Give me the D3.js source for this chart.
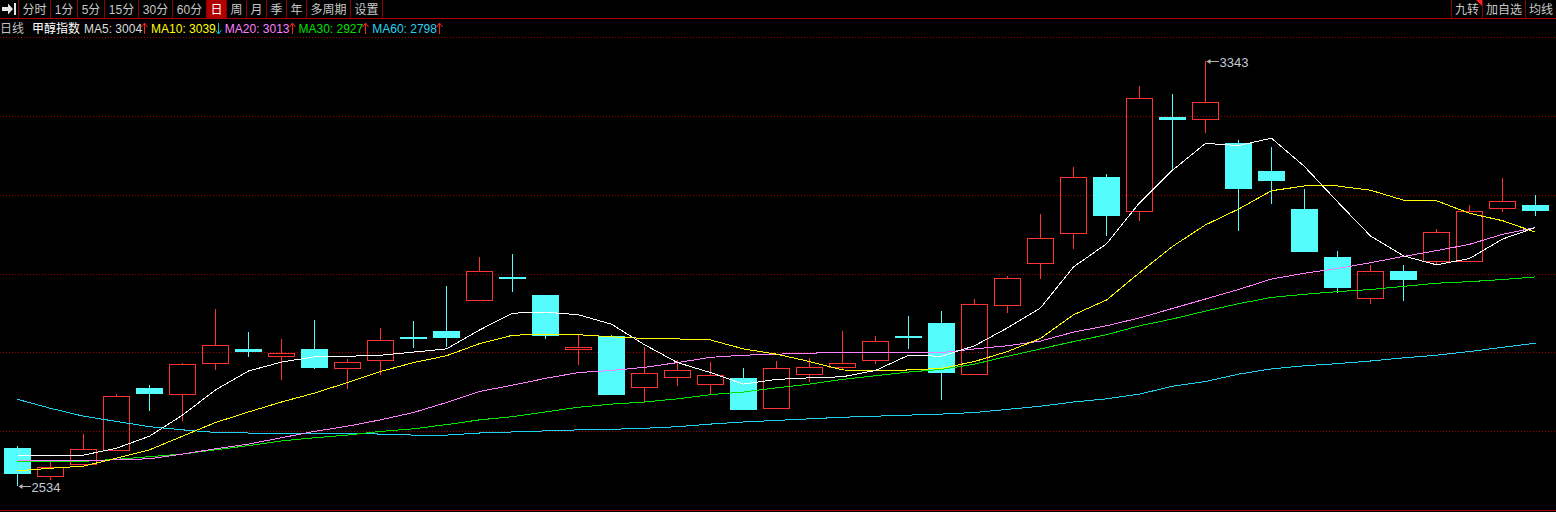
<!DOCTYPE html>
<html><head><meta charset="utf-8">
<script src="https://cdn.jsdelivr.net/npm/d3@7"></script>
<style>
html,body{margin:0;padding:0;background:#000;overflow:hidden}
svg{display:block}
text{font-family:"Liberation Sans",Arial,"Noto Sans CJK SC",sans-serif}
</style></head><body>
<svg id="c" width="1556" height="512"></svg>
<script>
// ---------------- data ----------------
const periodName = "日线";
const symbolName = "甲醇指数";
const periodTabs = ["分时","1分","5分","15分","30分","60分","日","周","月","季","年","多周期","设置"];
const activePeriod = "日";
const rightTabs = ["九转","加自选","均线"];

const openP  = [2606,2554,2576,2603,2721,2709,2768,2795,2781,2795,2758,2773,2817,2829,2889,2931,2898,2794,2820,2723,2742,2729,2740,2683,2748,2761,2773,2820,2844,2748,2879,2958,3015,3122,3057,3236,3233,3187,3134,3061,2970,2891,2943,2963,2963,3063,3069];
const highP  = [2610,2580,2633,2709,2726,2768,2871,2827,2814,2850,2776,2835,2848,2915,2970,2976,2898,2821,2822,2798,2774,2770,2759,2772,2778,2829,2819,2858,2867,2890,2934,3052,3141,3128,3295,3280,3343,3193,3179,3099,2981,2955,2955,3023,3069,3120,3088];
const lowP   = [2534,2546,2576,2601,2677,2657,2754,2780,2736,2757,2719,2746,2797,2799,2889,2904,2813,2764,2707,2693,2724,2709,2679,2683,2733,2755,2767,2794,2698,2745,2864,2928,2986,3010,3039,3134,3206,3020,3071,2980,2901,2880,2887,2955,2961,3056,3047];
const closeP = [2557,2570,2604,2705,2710,2766,2802,2790,2787,2759,2770,2812,2814,2816,2943,2928,2820,2799,2707,2749,2755,2745,2679,2758,2761,2768,2810,2817,2750,2880,2929,3006,3122,3047,3272,3231,3264,3100,3115,2980,2910,2943,2927,3017,3057,3076,3057];

const ma5  = [2593,2593,2593,2606,2629,2669,2717,2753,2770,2780,2781,2783,2789,2795,2831,2863,2865,2860,2842,2803,2769,2750,2728,2737,2740,2742,2754,2783,2781,2801,2835,2873,2951,2995,3073,3135,3186,3182,3196,3142,3075,3010,2972,2955,2967,3004,3026];
const ma10 = [2563,2568,2572,2587,2603,2629,2655,2675,2694,2711,2731,2752,2769,2782,2805,2821,2823,2822,2818,2815,2814,2812,2795,2785,2771,2755,2753,2755,2758,2771,2790,2815,2860,2888,2940,2990,3031,3061,3096,3105,3105,3097,3078,3077,3053,3039,3017];
const ma20 = [2582,2582,2582,2584,2586,2595,2605,2614,2626,2638,2648,2660,2674,2693,2714,2726,2739,2750,2754,2760,2769,2779,2783,2785,2787,2788,2788,2788,2788,2795,2801,2810,2827,2839,2854,2872,2890,2908,2928,2939,2948,2959,2971,2982,2994,3013,3026];
const ma30 = [2581,2580,2581,2585,2590,2595,2603,2611,2620,2626,2631,2638,2643,2651,2660,2666,2675,2684,2690,2694,2700,2708,2713,2721,2728,2737,2744,2751,2756,2766,2781,2795,2809,2822,2839,2852,2867,2881,2893,2899,2904,2908,2914,2920,2923,2927,2932];
const ma60 = [2699,2682,2667,2657,2647,2641,2636,2635,2635,2634,2634,2633,2631,2631,2635,2637,2639,2641,2642,2644,2647,2652,2656,2659,2662,2665,2667,2669,2671,2674,2680,2686,2694,2700,2709,2724,2733,2747,2757,2763,2767,2772,2778,2783,2790,2798,2806];

const maNames = ["MA5","MA10","MA20","MA30","MA60"];
const maLegendValues = [3004,3039,3013,2927,2798];
const maTrend = ["up","down","up","up","up"];
const priceMin = 2488.5, priceMax = 3388.5, gridStep = 150;

// ---------------- setup ----------------
const W = 1556, H = 512;
const svg = d3.select("#c");
svg.append("rect").attr("width", W).attr("height", H).attr("fill", "#000");

const maSeries = [ma5, ma10, ma20, ma30, ma60];
const maColors = ["#ffffff", "#ffff00", "#ff80ff", "#00e600", "#1ed2f0"];
const maTextColors = ["#dcdcdc", "#ffff00", "#ff80ff", "#00e000", "#28d2f0"];
const upColor = "#ff3232", downColor = "#54fcfc";
const gridColor = "#a00000";

const idx = d3.range(openP.length);
const x = d3.scaleBand().domain(idx).range([1, 1 + 33 * idx.length]).padding(0);
const cx = i => x(i) + x.bandwidth() / 2;
const y = d3.scaleLinear().domain([priceMin, priceMax]).range([510, 37]);
const bodyW = Math.round(x.bandwidth() * 0.82);

// ---------------- grid ----------------
const grid = svg.append("g").attr("shape-rendering", "crispEdges");
const gridVals = d3.range(priceMax, priceMin + 1, -gridStep);
grid.selectAll("line.g").data(gridVals.filter(v => v > priceMin + 1)).join("line")
  .attr("x1", 0).attr("x2", W)
  .attr("y1", d => Math.round(y(d)) + 0.5).attr("y2", d => Math.round(y(d)) + 0.5)
  .attr("stroke", gridColor).attr("stroke-dasharray", "1,2");
grid.append("line").attr("x1", 0).attr("x2", W).attr("y1", 510.5).attr("y2", 510.5).attr("stroke", gridColor);

// ---------------- candles ----------------
const cg = svg.append("g").attr("shape-rendering", "crispEdges");
idx.forEach(i => {
  const o = openP[i], c = closeP[i], h = highP[i], l = lowP[i];
  const xc = Math.floor(cx(i)) + 0.5;
  if (c > o) {
    const yt = Math.round(y(c)), yb = Math.round(y(o));
    if (y(h) < yt) cg.append("line").attr("x1", xc).attr("x2", xc).attr("y1", y(h)).attr("y2", yt).attr("stroke", upColor);
    if (y(l) > yb) cg.append("line").attr("x1", xc).attr("x2", xc).attr("y1", yb).attr("y2", y(l)).attr("stroke", upColor);
    cg.append("rect").attr("x", xc - bodyW / 2 + 0.5).attr("y", yt + 0.5)
      .attr("width", bodyW - 1).attr("height", Math.max(1, yb - yt))
      .attr("fill", "none").attr("stroke", upColor);
  } else {
    const yt = Math.round(y(o)), yb = Math.round(y(c));
    cg.append("line").attr("x1", xc).attr("x2", xc).attr("y1", y(h)).attr("y2", y(l)).attr("stroke", downColor);
    cg.append("rect").attr("x", xc - 0.5 - Math.floor(bodyW / 2)).attr("y", yt)
      .attr("width", bodyW).attr("height", Math.max(2, yb - yt)).attr("fill", downColor);
  }
});

// ---------------- moving averages ----------------
const lineGen = d3.line().x((d, i) => Math.floor(cx(i)) + 0.5).y(d => y(d));
const mg = svg.append("g").attr("shape-rendering", "crispEdges");
[4, 3, 2, 1, 0].forEach(k => {
  mg.append("path").attr("d", lineGen(maSeries[k])).attr("fill", "none")
    .attr("stroke", maColors[k]).attr("stroke-width", 1);
});

// ---------------- high / low markers ----------------
const hiIdx = d3.maxIndex(highP), loIdx = d3.minIndex(lowP);
function marker(i, v) {
  const xc = Math.floor(cx(i)) + 0.5, yy = Math.round(y(v)) + 0.5;
  const g = svg.append("g");
  g.append("line").attr("x1", xc + 1).attr("x2", xc + 13).attr("y1", yy).attr("y2", yy)
    .attr("stroke", "#b4b4b4").attr("shape-rendering", "crispEdges");
  g.append("path").attr("d", `M${xc + 1},${yy}L${xc + 5},${yy - 2.5}L${xc + 5},${yy + 2.5}Z`).attr("fill", "#b4b4b4");
  g.append("text").attr("x", xc + 14).attr("y", yy + 5).attr("font-size", 13)
    .attr("fill", "#c3cbd3").text(d3.format("d")(v));
}
marker(hiIdx, highP[hiIdx]);
marker(loIdx, lowP[loIdx]);

// ---------------- toolbar ----------------
const tb = svg.append("g");
const tbText = "#c8c8c8", sepColor = "#8c0000";
tb.append("path").attr("d", "M2,7H8V3.5L13,9L8,14.5V11H2Z").attr("fill", "#e6e6e6");
tb.append("rect").attr("x", 14).attr("y", 3).attr("width", 2).attr("height", 12).attr("fill", "#e6e6e6");
function sep(xp) {
  tb.append("line").attr("x1", xp + 0.5).attr("x2", xp + 0.5).attr("y1", 0).attr("y2", 18)
    .attr("stroke", sepColor).attr("shape-rendering", "crispEdges");
}
let tx = 18;
sep(tx);
periodTabs.forEach(label => {
  const t = tb.append("text").attr("y", 14).attr("font-size", 12).text(label);
  const w = Math.round(t.node().getComputedTextLength() + 8.2);
  const active = label === activePeriod;
  if (active) tb.insert("rect", "text").attr("x", tx + 1).attr("y", 0).attr("width", w - 1).attr("height", 18).attr("fill", "#b00000");
  t.attr("x", tx + w / 2 + 0.5).attr("text-anchor", "middle").attr("fill", active ? "#ffffff" : tbText);
  tx += w;
  sep(tx);
});
let rx = W;
rightTabs.slice().reverse().forEach(label => {
  const t = tb.append("text").attr("y", 14).attr("font-size", 12).text(label);
  const w = Math.round(t.node().getComputedTextLength() + 7);
  t.attr("x", rx - w / 2 + 0.5).attr("text-anchor", "middle").attr("fill", tbText);
  rx -= w;
  sep(rx);
  if (label === "九转") tb.append("path").attr("d", `M${rx + w - 6},0H${rx + w}V6Z`).attr("fill", "#ff2020");
});
tb.append("line").attr("x1", 0).attr("x2", W).attr("y1", 18.5).attr("y2", 18.5)
  .attr("stroke", "#b40000").attr("shape-rendering", "crispEdges");

// ---------------- legend ----------------
const lg = svg.append("g");
lg.append("text").attr("x", 0).attr("y", 33).attr("font-size", 12).attr("fill", "#c0c0c0").text(periodName);
const sym = lg.append("text").attr("x", 32).attr("y", 33).attr("font-size", 12).attr("fill", "#ffffff").text(symbolName);
let lx = 32 + sym.node().getComputedTextLength() + 4;
maNames.forEach((n, k) => {
  const t = lg.append("text").attr("x", lx).attr("y", 33).attr("font-size", 12)
    .attr("fill", maTextColors[k]).text(`${n}: ${maLegendValues[k]}`);
  const w = t.node().getComputedTextLength();
  const ax = Math.round(lx + w + 2) + 0.5;
  const up = maTrend[k] === "up";
  const col = up ? "#ff2020" : "#00c8c8";
  lg.append("line").attr("x1", ax).attr("x2", ax).attr("y1", 23).attr("y2", 34).attr("stroke", col).attr("shape-rendering", "crispEdges");
  lg.append("path").attr("d", up ? `M${ax - 3},27L${ax},23L${ax + 3},27` : `M${ax - 3},30L${ax},34L${ax + 3},30`)
    .attr("fill", "none").attr("stroke", col);
  lx += w + 9;
});
</script>
</body></html>
